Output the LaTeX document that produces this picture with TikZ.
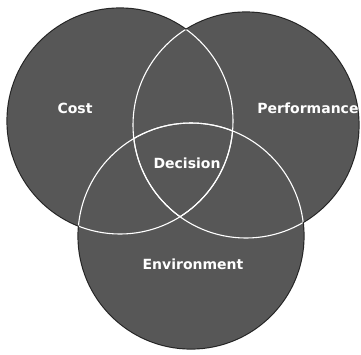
\documentclass[tikz,border=0pt]{standalone}
\usepackage{fontspec}
\newfontfamily\lblfont{DejaVu Sans}
\usepackage{xcolor}
\usepackage{tikz}
\definecolor{discgrey}{rgb}{0.34,0.34,0.34}

\begin{document}
\begin{tikzpicture}[
  x=1pt, y=-1pt,
  disc/.style={fill=discgrey, draw=black!85, line width=1.2pt},
  ring/.style={draw=white, line width=1.1pt},
  lbl/.style={text=white, font=\lblfont\bfseries\fontsize{14}{16}\selectfont, inner sep=1pt},
]
\useasboundingbox[fill=white] (0,0) rectangle (361,354);
% circle centres
\coordinate (cost) at (120,121);
\coordinate (perf) at (246,125);
\coordinate (env)  at (191,236);
% discs
\foreach \c in {cost,perf,env}
  \draw[disc] (\c) circle[radius=113pt];
\foreach \c in {cost,perf,env}
  \fill[discgrey] (\c) circle[radius=112.4pt];
% white rims, only where the discs overlap
\foreach \a/\b in {cost/perf,cost/env,perf/cost,perf/env,env/cost,env/perf}{
  \begin{scope}
    \clip (\b) circle[radius=112.4pt];
    \draw[ring] (\a) circle[radius=113pt];
  \end{scope}
}
% labels
\node[lbl] (lcost) at (75,108) {Cost};
\node[lbl] (lperf) at (308,108) {Performance};
\node[lbl] (ldec)  at (187,163) {Decision};
\node[lbl] (lenv)  at (193,264) {Environment};
\end{tikzpicture}
\end{document}
